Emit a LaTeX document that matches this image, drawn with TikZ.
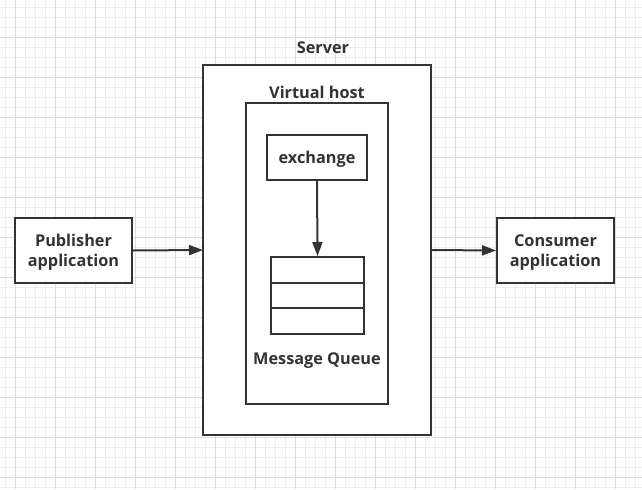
\documentclass[tikz,border=0pt]{standalone}
\usepackage{fontspec}
\setmainfont{Open Sans}
\usetikzlibrary{arrows.meta}
\definecolor{ink}{HTML}{333333}
\definecolor{gridminor}{HTML}{EEEEEE}
\definecolor{gridmajor}{HTML}{DDDDDD}
\tikzset{
  box/.style={draw=ink, line width=1.5pt, fill=white},
  lbl/.style={text=ink, font=\bfseries\fontsize{12.2}{15}\selectfont, align=center, inner sep=0pt, yshift=-1.5pt},
  conn/.style={draw=ink, line width=1.5pt, -{Triangle[length=10.5pt,width=7.5pt]}},
}
\begin{document}
\begin{tikzpicture}[x=0.75pt,y=-0.75pt]
\useasboundingbox (0,0) rectangle (642,489);
\fill[white] (0,0) rectangle (642,489);
% grid
\foreach \x in {5,15,...,645} {\draw[gridminor, line width=0.75pt] (\x,0) -- (\x,489);}
\foreach \y in {7,17,...,489} {\draw[gridminor, line width=0.75pt] (0,\y) -- (642,\y);}
\foreach \x in {15,55,...,645} {\draw[gridmajor, line width=0.75pt] (\x,0) -- (\x,489);}
\foreach \y in {37,77,...,489} {\draw[gridmajor, line width=0.75pt] (0,\y) -- (642,\y);}
% server
\draw[box] (203,65) rectangle (431,435);
\node[lbl] (serverlbl) at (323,46) {Server};
\coordinate (serverW) at (203,250);
\coordinate (serverE) at (431,250);
% virtual host
\draw[box] (246,103) rectangle (388,404);
\node[lbl] (vhlbl) at (317,90) {Virtual host};
% exchange
\node[box, minimum width=100*0.75pt, minimum height=45*0.75pt] (exch) at (317,157.5) {};
\node[lbl] (exchlbl) at (exch.center) {exchange};
% queue
\node[box, minimum width=93*0.75pt, minimum height=77*0.75pt] (queue) at (317.5,295.5) {};
\draw[ink, line width=1.5pt] (271,283) -- (364,283);
\draw[ink, line width=1.5pt] (271,308) -- (364,308);
\node[lbl] (mqlbl) at (317,359) {Message Queue};
% apps
\node[box, minimum width=117*0.75pt, minimum height=65*0.75pt] (pub) at (73.5,250.5) {};
\node[lbl] (publbl) at (pub.center) {Publisher\\application};
\node[box, minimum width=117*0.75pt, minimum height=65*0.75pt] (con) at (555.5,250.5) {};
\node[lbl] (conlbl) at (con.center) {Consumer\\application};
% connectors
\draw[conn] (pub.east) -- (serverW);
\draw[conn] (serverE) -- (con.west);
\draw[conn] (exch.south) -- (queue.north);
\end{tikzpicture}
\end{document}
